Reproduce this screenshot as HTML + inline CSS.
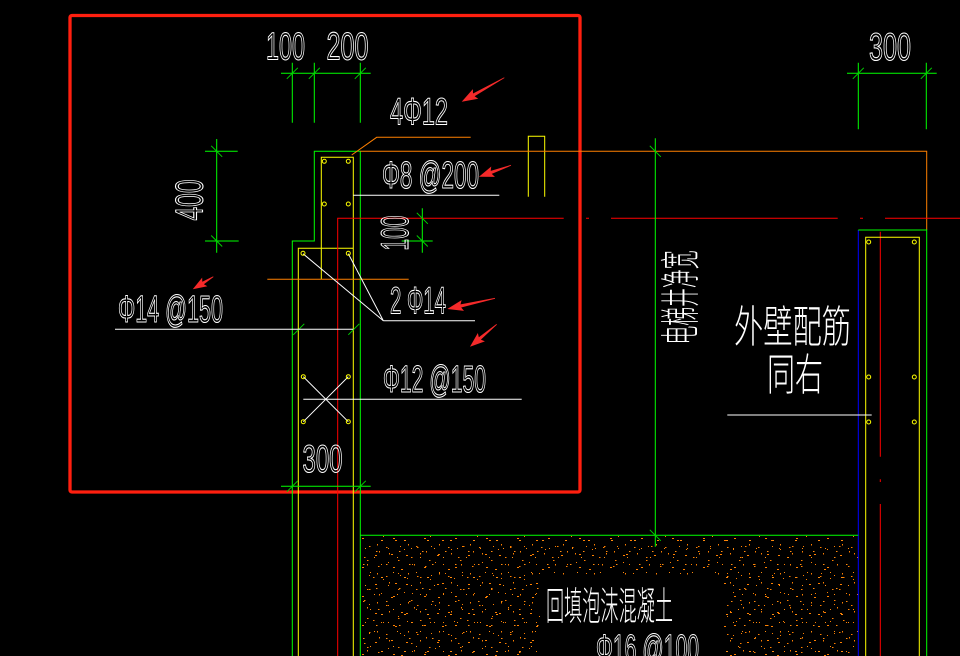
<!DOCTYPE html>
<html><head><meta charset="utf-8"><style>
html,body{margin:0;padding:0;background:#000;}
svg{display:block;}
.t{font-family:"Liberation Sans",sans-serif;fill:none;stroke:#fff;stroke-width:1.1;}
.c{font-family:"Liberation Sans","Noto Sans CJK SC",sans-serif;fill:#fff;font-weight:300;}
</style></head><body>
<svg width="960" height="656" viewBox="0 0 960 656" xmlns="http://www.w3.org/2000/svg">
<defs>
<pattern id="pA" width="31" height="29" patternUnits="userSpaceOnUse">
<g fill="#ff8000"><rect x="3" y="4" width="2" height="1"/><rect x="17" y="2" width="1" height="1.5"/><rect x="26" y="9" width="1.5" height="1"/><rect x="9" y="13" width="1" height="1"/><rect x="21" y="16" width="2" height="1"/><rect x="5" y="22" width="1" height="1.5"/><rect x="14" y="25" width="1.5" height="1"/><rect x="28" y="24" width="1" height="1"/></g>
</pattern>
<pattern id="pB" width="47" height="43" patternUnits="userSpaceOnUse">
<g fill="#ff8000"><rect x="2" y="7" width="1.5" height="1"/><rect x="12" y="3" width="1" height="1"/><rect x="25" y="10" width="2" height="1"/><rect x="38" y="5" width="1" height="1.5"/><rect x="44" y="18" width="1.5" height="1"/><rect x="7" y="20" width="1" height="1"/><rect x="19" y="24" width="2" height="1"/><rect x="31" y="19" width="1" height="1"/><rect x="40" y="30" width="1.5" height="1"/><rect x="3" y="35" width="1" height="1.5"/><rect x="15" y="38" width="2" height="1"/><rect x="28" y="33" width="1" height="1"/><rect x="35" y="41" width="1.5" height="1"/><rect x="22" y="14" width="1" height="1"/></g>
</pattern>
<pattern id="pC" width="23" height="37" patternUnits="userSpaceOnUse">
<g fill="#ff8c10"><rect x="6" y="2" width="1" height="1"/><rect x="18" y="9" width="1.5" height="1"/><rect x="2" y="17" width="1" height="1"/><rect x="13" y="22" width="2" height="1"/><rect x="20" y="30" width="1" height="1"/><rect x="8" y="33" width="1.5" height="1"/></g>
</pattern>
</defs>

<!-- speckle fill (foam concrete) -->
<g>
<rect x="361" y="536" width="497" height="120" fill="url(#pA)"/>
<rect x="361" y="536" width="497" height="120" fill="url(#pB)"/>
<rect x="361" y="536" width="497" height="120" fill="url(#pC)"/>
<rect x="540" y="575" width="183" height="81" fill="#000"/>
</g>

<!-- selection rect -->
<rect x="70" y="15.5" width="510" height="476.5" rx="2" fill="none" stroke="#ff1f0f" stroke-width="3.3"/>

<g fill="none" stroke-width="1">
<!-- green wall outline left -->
<path d="M292.3,656 V241 H314.3 V151.3 H360.3 V656" stroke="#00ff00"/>
<!-- yellow left -->
<path d="M321.3,279.3 V157.3 H353.3 V656" stroke="#ffff00"/>
<path d="M298.3,656 V248.3 H353.3" stroke="#ffff00"/>
<!-- yellow small inverted U -->
<path d="M528.3,196.7 V136.3 H544.7 V196.7" stroke="#ffff00"/>
<!-- orange lines -->
<path d="M360.3,151.3 H926.7 V230" stroke="#ff8000"/>
<path d="M351.7,155 L376.7,137.3 H470.7" stroke="#ff8000"/>
<path d="M267.3,279.3 H408.7" stroke="#ff8000"/>
<!-- red center lines -->
<path d="M337.7,656 V218.3 H563.7" stroke="#ff0000"/>
<path d="M586,218.3 H589 M611,218.3 H837.7 M860,218.3 H863 M885,218.3 H960" stroke="#ff0000"/>
<path d="M880.3,231.7 V456.7 M880.3,479.3 V482 M880.3,504 V656" stroke="#ff0000"/>
<!-- right wall -->
<path d="M858.3,656 V230" stroke="#0000ff"/>
<path d="M858.3,230 H926.7 V656" stroke="#00ff00"/>
<path d="M865.7,656 V237.3 H919.3 V656" stroke="#ffff00"/>
<!-- green floor line and vertical dim -->
<path d="M360.3,535.3 H858.3" stroke="#00ff00"/>
<path d="M655.3,138.3 V546.7" stroke="#00ff00"/>

<!-- dimension lines -->
<path d="M281,73.3 H370.7 M292.3,62.7 V122.7 M314.3,62.7 V122.7 M360.3,62.7 V122.7" stroke="#00ff00"/>
<path d="M847,73.3 H936.7 M858.3,62.7 V129.3 M926.3,62.7 V129.3" stroke="#00ff00"/>
<path d="M216.7,139 V252.7 M205,151.3 H237.7 M205,241 H238.7" stroke="#00ff00"/>
<path d="M422.3,208.3 V252.7 M401.7,241 H432.7" stroke="#00ff00"/>
<path d="M281,486.3 H370.7" stroke="#00ff00"/>

<!-- ticks -->
<g stroke="#00d000">
<path d="M286.8,78.8 L297.8,67.8 M308.8,78.8 L319.8,67.8 M354.8,78.8 L365.8,67.8"/>
<path d="M852.8,78.8 L863.8,67.8 M920.8,78.8 L931.8,67.8"/>
<path d="M211.2,145.8 L222.2,156.8 M211.2,235.5 L222.2,246.5"/>
<path d="M416.8,212.8 L427.8,223.8 M416.8,235.5 L427.8,246.5"/>
<path d="M649.8,145.8 L660.8,156.8 M649.8,529.8 L660.8,540.8"/>
<path d="M286.8,491.8 L297.8,480.8 M354.8,491.8 L365.8,480.8"/>
<path d="M293.3,334.8 L304.3,323.8 M348.3,334.8 L359.3,323.8"/>
</g>

<!-- white leader lines -->
<g stroke="#ffffff">
<path d="M353.3,195.3 H499.3"/>
<path d="M115,329.3 H353.3"/>
<path d="M303,253.7 L383.3,320.7 L348.3,253.7 M383.3,320.7 H475"/>
<path d="M303.3,399.3 H521.7"/>
<path d="M303.3,376.7 L348.3,421.7 M348.3,376.7 L303.3,421.7"/>
<path d="M727.3,415 H871.7"/>
</g>

<!-- yellow dots -->
<g stroke="#ffff00" stroke-width="1">
<circle cx="324.3" cy="161.3" r="2"/><circle cx="348.3" cy="161.3" r="2"/>
<circle cx="324.3" cy="204" r="2"/><circle cx="348.3" cy="204" r="2"/>
<circle cx="303" cy="253.3" r="2"/><circle cx="348.3" cy="253.3" r="2"/>
<circle cx="303.3" cy="376.7" r="2"/><circle cx="348.3" cy="376.7" r="2"/>
<circle cx="303.3" cy="421.7" r="2"/><circle cx="348.3" cy="421.7" r="2"/>
<circle cx="868.7" cy="242" r="2"/><circle cx="914.3" cy="242" r="2"/>
<circle cx="868.7" cy="377" r="2"/><circle cx="914.3" cy="377" r="2"/>
<circle cx="868.7" cy="422" r="2"/><circle cx="914.3" cy="422" r="2"/>
</g>
</g>

<!-- red arrows -->
<g fill="#f52a2a">
<polygon transform="translate(504.3,77.7) rotate(150.6)" points="0,-0.4 35,-1.6 33,-5.5 48.9,0 33,5.5 35,1.6 0,0.4"/>
<polygon transform="translate(511,165.3) rotate(160.4)" points="0,-0.4 21,-1.6 19,-5.5 34,0 19,5.5 21,1.6 0,0.4"/>
<polygon transform="translate(213.3,276.7) rotate(148.5)" points="0,-0.4 12,-1.5 10,-5 24.1,0 10,5 12,1.5 0,0.4"/>
<polygon transform="translate(495,298.3) rotate(167.4)" points="0,-0.4 35,-1.6 33,-5.5 48.9,0 33,5.5 35,1.6 0,0.4"/>
<polygon transform="translate(496.7,324.3) rotate(140)" points="0,-0.4 22,-1.6 20,-5.5 34.9,0 20,5.5 22,1.6 0,0.4"/>
</g>

<!-- Latin text -->
<g class="t" font-size="39">
<text x="266" y="59.5" textLength="39" lengthAdjust="spacingAndGlyphs">100</text>
<text x="326.5" y="59.5" textLength="42" lengthAdjust="spacingAndGlyphs">200</text>
<text x="869" y="60" textLength="42" lengthAdjust="spacingAndGlyphs">300</text>
<text x="390" y="124.5" font-size="38" textLength="58" lengthAdjust="spacingAndGlyphs">4Φ12</text>
<text x="382" y="188" font-size="38" textLength="97" lengthAdjust="spacingAndGlyphs">Φ8 @200</text>
<text x="118" y="322" font-size="38" textLength="105" lengthAdjust="spacingAndGlyphs">Φ14 @150</text>
<text x="390" y="313.5" font-size="38" textLength="56" lengthAdjust="spacingAndGlyphs">2 Φ14</text>
<text x="383" y="392" font-size="38" textLength="103" lengthAdjust="spacingAndGlyphs">Φ12 @150</text>
<text x="302.5" y="472" textLength="40" lengthAdjust="spacingAndGlyphs">300</text>
<text x="596" y="661" font-size="38" textLength="103" lengthAdjust="spacingAndGlyphs">Φ16 @100</text>
<text transform="translate(202.5,220.5) rotate(-90)" x="0" y="0" textLength="41" lengthAdjust="spacingAndGlyphs">400</text>
<text transform="translate(408,250.5) rotate(-90)" x="0" y="0" textLength="35" lengthAdjust="spacingAndGlyphs">100</text>
</g>

<!-- CJK text -->
<g class="c">
<text transform="translate(694.5,344.5) rotate(-90)" x="0" y="0" font-size="40" textLength="94" lengthAdjust="spacingAndGlyphs">电梯井净宽</text>
<text x="734" y="342" font-size="44" textLength="117" lengthAdjust="spacingAndGlyphs">外壁配筋</text>
<text x="767" y="390" font-size="44" textLength="56" lengthAdjust="spacingAndGlyphs">同右</text>
<text x="546" y="620" font-size="39" textLength="127" lengthAdjust="spacingAndGlyphs">回填泡沫混凝土</text>
</g>
</svg>
</body></html>
